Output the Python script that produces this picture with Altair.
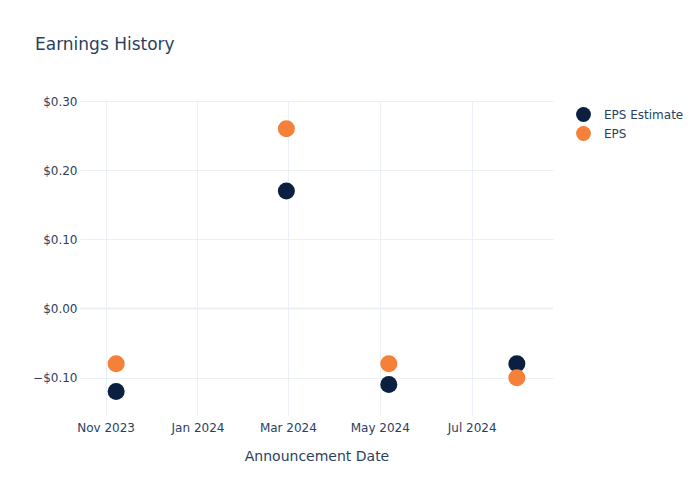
import altair as alt
import pandas as pd

dates = ["2023-11-08", "2024-02-29", "2024-05-07", "2024-07-31"]
eps_estimate = [-0.12, 0.17, -0.11, -0.08]
eps_actual = [-0.08, 0.26, -0.08, -0.10]
series_names = ["EPS Estimate", "EPS"]
series_colors = ["#0b1f40", "#f5803a"]

rows = []
for d, v in zip(dates, eps_estimate):
    rows.append({"date": d, "value": v, "series": "EPS Estimate", "k": 0})
for d, v in zip(dates, eps_actual):
    rows.append({"date": d, "value": v, "series": "EPS", "k": 1})
df = pd.DataFrame(rows)

FONT = "DejaVu Sans"
TXT = "#2a3f5f"
GRID = "#ebf0f8"

tick_vals = [
    alt.DateTime(year=2023, month=11, date=1, utc=True),
    alt.DateTime(year=2024, month=1, date=1, utc=True),
    alt.DateTime(year=2024, month=3, date=1, utc=True),
    alt.DateTime(year=2024, month=5, date=1, utc=True),
    alt.DateTime(year=2024, month=7, date=1, utc=True),
]

xscale = alt.Scale(
    type="utc",
    domain=[
        alt.DateTime(year=2023, month=10, date=15, utc=True),
        alt.DateTime(year=2024, month=8, date=24, utc=True),
    ],
)
yscale = alt.Scale(domain=[-0.154, 0.30], nice=False, zero=False)

points = alt.Chart(df).mark_circle(size=290, opacity=1).encode(
    x=alt.X(
        "date:T",
        scale=xscale,
        title="Announcement Date",
        axis=alt.Axis(
            values=tick_vals,
            labelExpr="utcFormat(datum.value, '%b %Y')",
            grid=True,
            gridColor=GRID,
            domain=False,
            ticks=False,
            labelPadding=7,
            titlePadding=16,
        ),
    ),
    y=alt.Y(
        "value:Q",
        scale=yscale,
        title=None,
        axis=alt.Axis(
            values=[-0.1, 0.0, 0.1, 0.2, 0.3],
            format="$.2f",
            grid=True,
            gridColor=GRID,
            domain=False,
            ticks=False,
            labelPadding=3,
        ),
    ),
    color=alt.Color(
        "series:N",
        scale=alt.Scale(domain=series_names, range=series_colors),
        legend=alt.Legend(
            title=None,
            orient="none",
            legendX=496,
            legendY=6,
            symbolType="circle",
            symbolSize=220,
            symbolStrokeWidth=0,
            labelFontSize=12,
            labelColor=TXT,
            labelFont=FONT,
            rowPadding=4,
            labelOffset=13,
        ),
    ),
    order=alt.Order("k:Q"),
)

zero = alt.Chart(pd.DataFrame({"y": [0.0]})).mark_rule(color=GRID, strokeWidth=2).encode(
    y=alt.Y("y:Q", scale=yscale)
)

chart = (
    alt.layer(zero, points)
    .properties(
        width=473,
        height=314,
        autosize=alt.AutoSizeParams(type="none"),
        padding={"left": 80, "top": 101, "right": 147, "bottom": 85},
        title=alt.Title(
            "Earnings History",
            anchor="start",
            frame="group",
            dx=-45,
            offset=41,
            fontSize=17,
            fontWeight="normal",
            font=FONT,
            color=TXT,
        ),
    )
    .configure_view(stroke=None)
    .configure_axis(
        labelFont=FONT,
        labelFontSize=12,
        labelColor=TXT,
        titleFont=FONT,
        titleFontSize=14,
        titleColor=TXT,
        titleFontWeight="normal",
    )
)

chart.save("out.html", embed_options={"renderer": "svg", "actions": False})
